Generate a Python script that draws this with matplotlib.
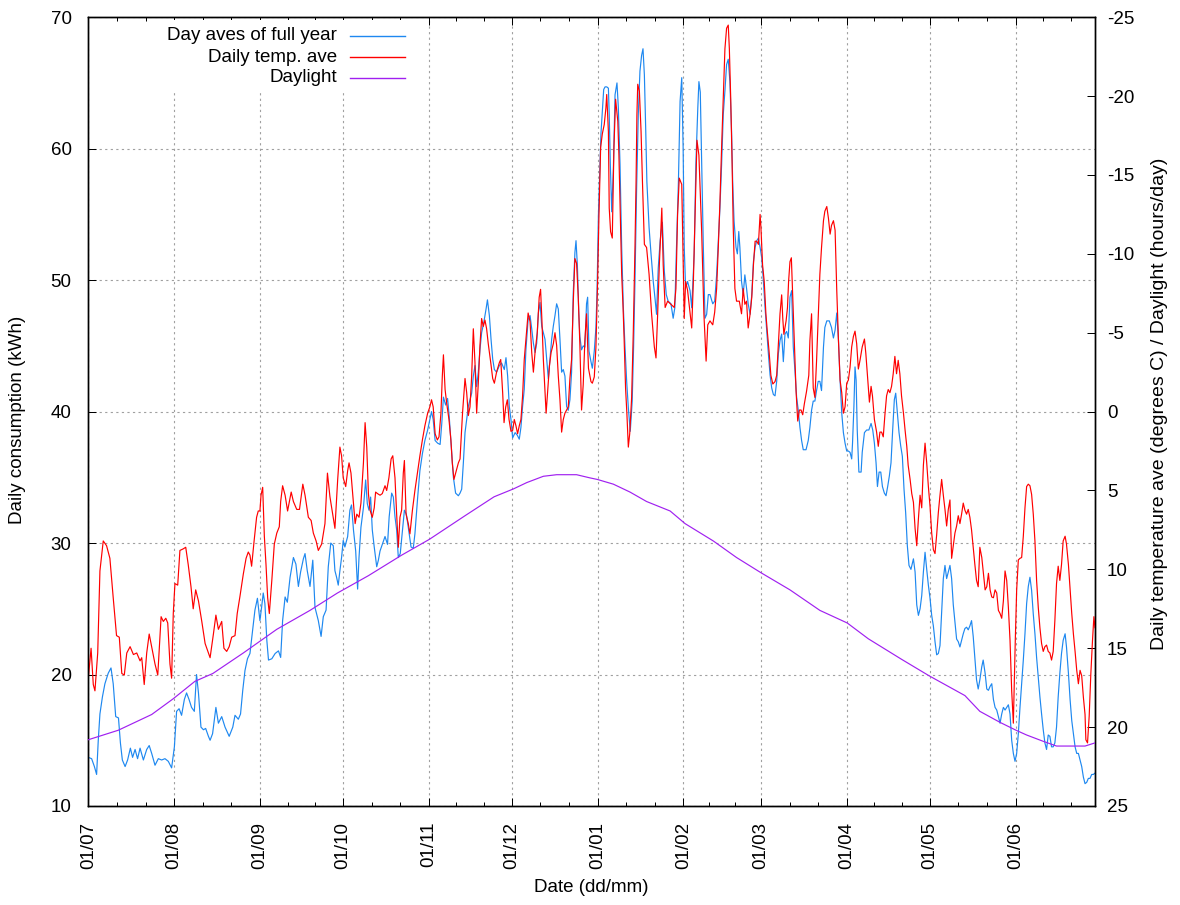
import matplotlib
matplotlib.use("Agg")
import matplotlib.pyplot as plt
from matplotlib.lines import Line2D
from matplotlib.patches import Rectangle
from matplotlib.ticker import FixedLocator

plt.rcParams['font.family'] = ['Liberation Sans', 'DejaVu Sans']
plt.rcParams['axes.unicode_minus'] = False

# ---------------- data ----------------
# x positions are day offsets from 01/07
month_days = [0, 31, 62, 92, 123, 153, 184, 215, 243, 274, 304, 335, 365]
month_labels = ['01/07', '01/08', '01/09', '01/10', '01/11', '01/12',
                '01/01', '01/02', '01/03', '01/04', '01/05', '01/06']

cons_day = [
    0, 1.2, 2.2, 3.0, 3.6, 4.2, 5.1, 6.0, 7.2, 8.2, 9.0, 9.9, 10.9, 11.6, 12.3, 13.3, 14.2, 15.2, 16.0, 16.9,
    17.8, 18.7, 19.9, 21.1, 22.0, 22.9, 24.1, 25.3, 26.5, 27.7, 28.9, 30.1, 31.1, 31.9, 32.8, 33.7, 34.7, 35.5,
    36.4, 37.3, 38.3, 39.1, 39.8, 40.7, 41.6, 42.4, 43.4,
    44.0, 44.9, 46.1, 47.0, 48.2, 49.4, 50.9, 52.2, 53.0, 54.2, 55.0, 55.8, 56.6, 57.5, 58.4, 59.4, 60.2, 61.1,
    62.0, 62.6, 63.2, 63.8, 64.5, 65.1, 66.3, 67.5, 68.7, 69.5, 70.2, 71.1, 71.9, 72.9, 74.1, 75.0, 75.9, 76.7,
    77.7, 78.3, 79.1, 80.1, 81.1, 81.9, 83.1, 84.1, 84.9, 85.9, 86.7, 87.6, 88.5,
    89.1, 89.7, 90.3, 90.9, 91.5, 92.1, 92.7, 93.7, 94.5, 95.1, 95.8, 96.6, 97.3, 97.8, 98.5, 99.4, 100.2, 100.8,
    101.4, 102.0, 102.6, 103.3, 104.2, 104.8, 105.4, 106.2, 107.2, 108.1, 108.7, 109.6, 110.2, 110.8, 111.4,
    112.0, 112.7, 113.5, 114.2, 114.9, 115.6, 116.6, 117.4, 118.0, 119.0, 119.8, 120.7, 121.6, 122.6, 123.4,
    124.0, 124.6, 125.3, 126.2, 127.1, 127.7, 128.3, 129.1, 129.8, 130.4, 131.0, 131.9, 132.7, 133.7,
    134.3, 134.9, 135.5, 136.1, 136.7, 137.3, 137.9, 138.5, 139.1, 139.7, 140.3, 140.9, 141.5, 142.1, 142.9,
    143.7, 144.2, 144.9, 145.5, 146.1, 146.7, 147.5, 148.5, 149.3, 150.3, 150.9, 151.5, 152.1, 152.7, 153.3,
    154.2, 155.0, 155.7, 156.3, 156.9, 157.5, 158.1, 158.9, 159.6, 160.2, 160.8, 161.4, 162.0, 162.6, 163.2,
    163.8, 164.4, 165.0, 165.6, 166.2, 166.8, 167.4, 168.0, 168.6, 169.2, 169.8, 170.4, 171.0, 171.6, 172.2,
    172.8, 173.4, 174.0, 174.6, 175.2, 175.8, 176.2, 176.7, 177.2, 177.6, 178.2, 178.8,
    179.4, 180.0, 180.4, 180.9, 181.6, 182.1, 182.8, 183.4, 183.8, 184.3, 184.8, 185.2, 185.7, 186.2, 186.7,
    187.3, 187.9, 188.2, 188.6, 189.1, 189.7, 190.3, 191.0, 191.5, 192.1, 192.7, 193.3, 193.9, 194.5, 195.1,
    195.8, 196.5, 197.0, 197.5, 198.1, 198.7, 199.3, 199.9, 200.4, 200.9, 201.4, 201.8, 202.6, 203.3, 204.1,
    204.7, 205.3, 205.9, 206.6, 207.4, 208.1, 208.8, 209.5, 210.5, 211.3, 211.9, 212.5, 213.2, 213.8, 214.4,
    214.9, 215.3, 215.8, 216.5, 217.4, 218.0, 218.9, 219.5, 220.2, 220.6, 221.1, 221.6, 222.2, 222.8, 223.4, 224.0,
    224.6, 225.6, 226.3, 227.0, 227.6, 228.2, 228.8, 229.4, 230.0, 230.6, 231.2, 231.8, 232.4, 232.8, 233.3,
    234.0, 234.5, 235.0, 235.4, 236.0, 236.6, 237.2, 237.8, 238.4, 239.1, 239.7, 240.3, 240.9, 241.5, 242.1,
    242.7, 243.3, 243.9, 244.5, 245.1, 245.7, 246.3, 246.9, 247.5, 248.1, 248.7, 249.3, 249.9, 250.5, 251.1,
    251.7, 252.3, 252.9, 253.5, 254.1, 254.7, 255.3, 255.9, 256.5, 257.1, 257.7, 258.3, 259.3, 260.1, 260.7,
    261.3, 261.9, 262.5, 263.1, 263.7, 264.3, 264.9, 265.6, 266.1, 266.8, 267.7, 268.5, 269.2,
    269.8, 270.4, 271.0, 271.6, 272.2, 272.8, 273.4, 274.0, 274.6, 275.2, 275.8, 276.1, 276.6, 277.0, 277.4,
    277.8, 278.4, 279.2, 279.6, 280.4, 281.2, 282.0, 282.8, 283.4, 284.0, 284.6, 285.1, 285.7, 286.3, 286.9,
    287.6, 288.2, 288.8, 289.4, 290.0, 290.6, 291.2, 291.7, 292.3, 292.9, 293.5, 294.1, 294.7, 295.3, 295.9,
    296.5, 297.2, 298.1, 298.7, 299.3, 299.9, 300.5, 301.1, 301.7, 302.3, 302.9, 303.5, 304.1, 304.7, 305.3,
    305.9, 306.5, 307.1, 307.7, 308.3, 308.9, 309.5, 310.1, 310.7, 311.3, 311.9, 312.5, 313.1, 313.7, 314.3,
    314.9, 315.5, 316.1, 316.7, 317.3, 317.9, 318.5, 319.1, 319.7, 320.3, 320.9, 321.5, 322.1, 322.8, 323.3,
    324.0, 324.6, 325.2, 325.8, 326.4, 327.0, 327.6, 328.2, 328.8, 329.4, 330.0, 330.6, 331.2, 331.8, 332.4,
    333.0, 333.6, 334.2, 334.8, 335.4, 336.0, 336.6, 337.2, 337.8, 338.4, 339.0, 339.6, 340.2, 340.8, 341.4,
    342.0, 342.6, 343.2, 343.8, 344.4, 345.0, 345.6, 346.2, 346.8, 347.4, 348.0, 348.6, 349.2, 349.8, 350.4,
    351.0, 351.6, 352.2, 352.9, 353.4, 354.1, 354.7, 355.3, 355.9, 356.5, 357.1, 357.7, 358.3, 358.9, 359.5,
    360.1, 360.7, 361.3, 361.9, 362.5, 363.1, 363.7]
cons_kwh = [
    13.7, 13.6, 13.0, 12.4, 15.0, 17.0, 18.3, 19.3, 20.1, 20.5, 19.3, 16.8, 16.7, 14.8, 13.5, 13.0, 13.5, 14.4, 13.7, 14.3,
    13.6, 14.4, 13.5, 14.3, 14.6, 14.0, 13.1, 13.6, 13.5, 13.6, 13.4, 12.9, 14.5, 17.2, 17.4, 16.9, 18.1, 18.6,
    18.1, 17.5, 17.2, 20.0, 18.6, 16.0, 15.8, 15.9, 15.3,
    15.0, 15.5, 17.5, 16.3, 16.8, 16.0, 15.3, 16.0, 16.9, 16.6, 17.0, 18.8, 20.3, 21.2, 21.6, 23.4, 24.9, 25.8,
    24.1, 25.1, 26.2, 25.4, 22.6, 21.1, 21.2, 21.6, 21.8, 21.3, 24.1, 25.9, 25.5, 27.4, 28.9, 28.4, 26.7, 27.8,
    28.8, 29.2, 27.9, 26.7, 28.7, 25.1, 24.1, 22.9, 24.4, 24.9, 28.2, 30.0, 29.8,
    27.9, 27.4, 26.8, 27.9, 28.9, 30.2, 29.7, 30.5, 32.5, 32.9, 31.0, 29.4, 26.5, 28.9, 31.2, 32.7, 34.8, 33.0,
    32.5, 33.5, 31.0, 29.7, 28.2, 28.7, 29.4, 29.9, 30.5, 29.9, 32.0, 33.8, 33.5, 32.0, 31.0,
    28.9, 29.2, 31.0, 32.5, 32.2, 31.2, 29.7, 29.6, 30.7, 33.5, 35.5, 36.8, 37.8, 38.6, 39.4,
    40.0, 39.4, 37.8, 37.6, 37.5, 39.1, 41.1, 40.5, 41.0, 39.6, 37.8, 35.0, 33.8, 33.6,
    33.8, 34.1, 36.1, 38.4, 39.4, 40.4, 40.9, 41.4, 42.7, 43.5, 41.9, 43.0, 44.7, 46.0, 46.8,
    47.8, 48.5, 47.3, 45.5, 44.0, 43.2, 43.0, 43.5, 43.7, 43.2, 44.1, 42.7, 40.4, 39.4, 38.0,
    38.4, 38.2, 37.9, 38.8, 40.4, 41.7, 44.7, 47.0, 47.3, 46.3, 45.2, 44.5, 45.2, 47.5, 48.3,
    46.5, 46.0, 45.5, 44.0, 42.5, 44.0, 45.5, 46.5, 47.3, 48.2, 47.8, 45.5, 43.0, 43.2, 42.7,
    40.4, 40.1, 40.9, 43.0, 49.0, 52.1, 53.0, 51.1, 47.5, 45.7, 44.7, 45.0,
    44.9, 48.2, 48.7, 44.6, 43.8, 43.3, 44.6, 46.4, 49.2, 55.0, 58.3, 61.1, 62.8, 64.5, 64.7,
    64.7, 64.6, 62.6, 58.8, 55.2, 58.5, 64.1, 65.0, 63.1, 58.8, 52.5, 47.9, 44.9, 42.3, 40.3,
    38.5, 40.8, 44.9, 49.9, 57.0, 62.6, 65.9, 67.1, 67.6, 65.6, 61.3, 57.5, 54.0, 52.0, 49.9,
    48.7, 47.4, 50.9, 53.0, 54.4, 50.7, 48.9, 48.4, 48.2, 47.1, 47.9, 52.5, 57.5, 63.6, 65.4,
    60.1, 52.5, 49.4, 49.9, 49.2, 47.9, 52.0, 58.8, 63.1, 65.1, 64.3, 58.8, 52.5, 47.1, 47.4, 48.9,
    48.9, 48.2, 48.4, 50.4, 53.0, 55.5, 58.8, 62.6, 64.4, 66.4, 66.8, 65.1, 61.3, 57.5, 54.5,
    52.5, 52.0, 53.7, 52.5, 49.9, 48.9, 50.4, 49.4, 48.2, 47.4, 48.9, 51.4, 52.5, 53.0, 53.2,
    52.5, 51.7, 49.9, 47.9, 46.1, 44.4, 42.8, 41.8, 41.3, 41.2, 42.3, 44.4, 45.4, 45.9, 43.8,
    45.9, 46.1, 45.6, 48.7, 49.2, 44.9, 43.1, 41.1, 40.1, 38.8, 37.8, 37.1, 37.1, 37.8, 38.8,
    40.1, 40.8, 40.8, 41.6, 42.3, 42.3, 41.6, 44.9, 46.4, 46.9, 46.9, 46.4, 45.6,
    46.2, 47.5, 45.5, 42.4, 39.9, 38.4, 37.6, 37.0, 37.0, 36.9, 36.4, 37.6, 40.4, 43.4, 42.4,
    38.6, 35.4, 35.4, 36.9, 38.4, 38.6, 38.6, 39.1, 38.6, 37.6, 36.1, 34.3, 35.4, 35.4, 34.3,
    33.8, 33.6, 34.3, 35.1, 36.1, 38.6, 40.9, 41.4, 39.9, 38.4, 37.4, 36.6, 34.1, 32.3, 29.8,
    28.3, 28.0, 28.8, 27.8, 25.3, 24.5, 25.0, 26.0, 27.8, 29.3, 28.0, 26.8, 25.8, 24.5, 23.7,
    22.5, 21.5, 21.6, 22.2, 24.7, 27.3, 28.3, 27.3, 27.8, 28.3, 27.3, 25.3, 24.0, 22.7, 22.5,
    22.1, 22.6, 23.1, 23.5, 23.6, 23.4, 23.7, 24.1, 22.9, 21.3, 19.6, 18.9, 19.6, 20.6, 21.1,
    20.1, 18.9, 18.8, 19.1, 19.3, 18.1, 17.5, 17.3, 16.8, 16.3, 17.0, 17.5, 17.3, 17.5, 17.7,
    17.0, 15.0, 14.0, 13.4, 14.0, 15.5, 17.5, 19.3, 21.1, 23.1, 25.4, 26.7, 27.4, 26.4, 24.6,
    23.1, 21.3, 19.8, 18.3, 17.0, 15.8, 14.8, 14.3, 15.4, 15.3, 14.5, 14.5, 14.8, 16.0, 18.3,
    20.1, 21.6, 22.6, 23.1, 22.1, 20.1, 18.1, 16.5, 15.5, 14.5, 14.0, 14.0, 13.5, 13.0, 12.2,
    11.7, 11.8, 12.1, 12.1, 12.4, 12.4, 12.5]

temp_day = [
    0, 1.0, 1.8, 2.4, 3.4, 4.2, 5.4, 6.6, 7.8, 9.0, 10.2, 11.2, 12.1, 13.0, 13.9, 15.1, 16.3, 17.5, 18.7, 19.3,
    20.2, 21.1, 22.0, 22.9, 24.1, 25.1, 26.3, 27.1, 28.0, 28.7, 29.5, 30.1, 30.7, 31.3, 32.3, 33.1, 34.3, 35.2,
    36.1, 37.1, 37.9, 38.8, 39.8, 41.0, 42.2, 43.4,
    44.0, 45.2, 46.1, 47.0, 48.2, 49.0, 50.0, 50.9, 51.8, 53.0, 53.8, 54.8, 56.0, 57.0, 57.8, 58.4, 59.0, 59.9,
    60.8, 61.4, 62.0, 62.4, 63.0, 63.6, 64.2, 64.8, 65.4, 66.3, 67.2, 68.1, 69.0, 69.5, 70.2, 71.1, 72.0, 73.3,
    74.1, 75.3, 76.3, 77.5, 78.3, 79.5, 80.5, 81.3, 82.3, 83.1, 84.3, 85.5, 86.4, 87.3, 88.3,
    89.1, 90.1, 90.9, 91.5, 92.1, 93.0, 93.7, 94.2, 94.9, 95.8, 96.4, 97.0, 97.8, 98.5, 99.4, 100.0, 100.6,
    101.2, 101.8, 102.6, 103.3, 103.8, 104.5, 105.4, 106.2, 107.2, 107.8, 108.6, 109.4, 110.0, 110.8, 111.4,
    112.0, 112.6, 113.2, 113.8, 114.2, 114.8, 115.6, 116.2, 117.1, 118.0, 119.0, 119.8, 120.7, 121.6, 122.6,
    123.4, 124.0, 124.6, 125.3, 126.1, 126.7, 127.4, 127.9, 128.3, 128.9, 129.5, 130.3, 131.0, 131.5, 132.1,
    132.7, 133.7,
    134.3, 135.2, 136.1, 136.7, 137.3, 137.9, 138.5, 139.1, 139.7, 140.3, 140.9, 141.5, 142.1, 142.7, 143.3,
    143.9, 144.5, 145.4, 146.1, 146.7, 147.5, 148.5, 149.0, 149.7, 150.2, 150.8, 151.4, 152.0, 152.7, 153.3,
    153.9, 154.5, 155.1, 155.7, 156.3, 156.9, 157.5, 158.1, 158.9, 159.6, 160.2, 160.8, 161.4, 162.2, 162.9,
    163.4, 163.9, 164.4, 165.0, 165.4, 166.0, 166.6, 167.2, 168.0, 168.6, 169.2, 169.8, 170.4, 171.0, 171.6,
    172.2, 172.8, 173.4, 174.0, 174.6, 175.2, 175.8, 176.4, 177.0, 177.6, 178.2, 178.8,
    179.4, 180.0, 180.7, 181.6, 182.1, 182.8, 183.4, 184.0, 184.5, 185.1, 185.7, 186.4, 187.0, 187.3, 187.9,
    188.2, 188.7, 189.3, 189.9, 190.5, 191.3, 191.7, 192.2, 192.7, 193.2, 193.6, 194.1, 194.6, 195.1, 195.6,
    196.3, 196.9, 197.5, 197.9, 198.2, 198.5, 199.1, 199.7, 200.2, 200.9, 201.7, 202.6, 203.5, 204.5, 205.1,
    205.7, 206.3, 207.2, 207.7, 208.4, 209.3, 210.5, 211.7, 212.3, 212.9, 213.5, 214.4, 214.9, 215.3, 215.8,
    216.5, 218.0, 218.6, 219.2, 219.9, 220.6, 221.6, 222.4, 223.2, 223.8,
    224.6, 225.6, 226.3, 227.0, 227.6, 228.2, 228.8, 229.4, 230.0, 230.6, 231.2, 231.6, 232.1, 232.6, 233.0,
    233.6, 234.2, 235.2, 236.0, 236.6, 237.2, 237.8, 238.4, 239.1, 239.7, 240.3, 240.9, 241.5, 242.1, 242.7,
    243.0, 243.6, 244.2, 244.8, 245.3, 246.0, 246.6, 247.3, 248.1, 248.7, 249.3, 249.9, 250.5, 250.9, 251.3,
    252.1, 252.6, 253.0, 253.5, 254.0, 254.5, 255.1, 255.7, 256.3, 256.9, 257.5, 258.1, 258.7, 259.5, 260.3,
    260.7, 261.3, 261.9, 262.5, 263.1, 263.7, 264.3, 264.9, 265.6, 266.1, 266.8, 267.4, 268.0, 268.5, 269.2,
    269.8, 270.4, 271.0, 271.6, 272.2, 272.8, 273.4, 274.0, 274.6, 275.2, 275.8, 276.4, 277.0, 277.6, 278.2,
    278.8, 279.6, 280.4, 280.9, 281.6, 282.2, 282.8, 283.3, 284.0, 284.8, 285.4, 286.0, 286.6, 287.2, 287.8,
    288.4, 289.0, 289.6, 290.2, 290.8, 291.4, 292.0, 292.6, 293.2, 293.8, 294.5, 295.1, 295.7, 296.2, 296.9,
    297.5, 298.1, 298.7, 299.3, 299.9, 300.5, 301.1, 301.7, 302.3, 302.9, 303.5, 304.1, 304.7, 305.3, 305.9,
    306.5, 307.1, 307.7, 308.3, 308.9, 309.5, 310.1, 310.7, 311.3, 311.9, 312.5, 313.1, 313.7, 314.3,
    314.9, 315.5, 316.1, 316.7, 317.3, 317.9, 318.5, 319.1, 319.7, 320.3, 320.9, 321.5, 322.1, 322.8, 323.3,
    324.0, 324.6, 325.2, 325.8, 326.4, 327.0, 327.6, 328.2, 328.8, 329.4, 330.0, 330.6, 331.2, 331.8, 332.4,
    333.0, 333.6, 334.2, 334.5, 334.9, 335.4, 336.0, 336.6, 337.2, 337.8, 338.4, 339.0, 339.6, 340.2, 340.8,
    341.4, 342.0, 342.6, 343.2, 343.8, 344.4, 345.0, 345.6, 346.2, 346.8, 347.4, 348.0, 348.6, 349.2, 349.8,
    350.4, 351.0, 351.6, 352.2, 352.9, 353.4, 354.1, 354.7, 355.3, 355.9, 356.5, 357.1, 357.7, 358.3, 358.9,
    359.5, 360.1, 360.4, 361.0, 361.6, 362.2, 362.8, 363.3, 363.7]
temp_c = [
    16.9, 15.0, 17.3, 17.7, 15.3, 10.1, 8.2, 8.5, 9.3, 11.8, 14.2, 14.3, 16.6, 16.7, 15.3, 14.9, 15.4, 15.3, 15.8, 15.6,
    17.3, 15.3, 14.1, 14.9, 16.0, 16.7, 13.0, 13.3, 13.1, 13.4, 16.0, 16.9, 12.8, 10.9, 11.0, 8.8, 8.7, 8.6,
    9.7, 11.1, 12.5, 11.3, 12.0, 13.3, 14.7, 15.3,
    15.6, 14.1, 12.9, 13.8, 13.3, 15.0, 15.2, 14.9, 14.3, 14.2, 12.8, 11.7, 10.3, 9.3, 8.9, 9.1, 9.8, 8.2,
    6.7, 6.3, 6.3, 5.3, 4.8, 7.9, 9.7, 11.8, 12.8, 10.7, 8.4, 7.7, 7.3, 5.7, 4.7, 5.3, 6.3, 5.1,
    5.7, 6.2, 6.2, 4.6, 5.3, 6.7, 6.9, 7.7, 8.2, 8.8, 8.4, 7.1, 3.9, 5.4, 6.5,
    7.4, 4.3, 2.25, 2.8, 4.2, 4.75, 3.75, 3.25, 3.9, 5.8, 7.1, 6.5, 6.7, 5.8, 3.25, 0.7, 2.25,
    5.2, 6.25, 6.7, 6.1, 5.1, 5.2, 5.3, 5.2, 4.7, 5.0, 4.2, 3.0, 2.8, 4.2, 6.5,
    8.6, 6.7, 6.25, 3.9, 3.1, 6.5, 7.1, 7.75, 6.25, 5.0, 3.75, 2.8, 1.8, 0.9, 0.1,
    -0.3, -0.75, -0.3, 1.4, 1.8, 1.6, 0.1, -2.25, -3.6, -1.4, -0.5, 0.5, 1.8, 3.25, 4.3,
    3.9, 3.25,
    3.0, 0.1, -2.1, -1.2, 0.25, -0.3, -2.25, -5.25, -3.1, 0.1, -1.8, -4.2, -5.9, -5.4, -5.8,
    -5.25, -4.3, -3.1, -2.1, -1.8, -2.5, -3.1, -3.3, -1.2, 0.7, -0.3, -0.75, 0.5, 1.25, 1.2,
    0.5, 0.9, 1.4, 0.9, 0.5, -1.0, -3.3, -4.6, -6.25, -5.7, -3.75, -2.5, -3.75, -5.0, -7.25,
    -7.75, -5.7, -3.3, -1.2, 0.1, -1.4, -2.9, -3.75, -4.3, -5.0, -4.2, -2.25, -0.75, 1.3, 0.5,
    0.1, -0.1, -0.3, -2.1, -3.3, -6.9, -9.7, -9.4, -7.3, -4.2, -0.1, -1.7,
    -4.5, -6.2, -2.75, -1.9, -1.8, -2.2, -4.1, -8.25, -12.5, -16.75, -17.6, -18.2, -19.25, -20.1, -17.75,
    -12.9, -11.4, -11.0, -16.75, -19.8, -18.4, -16.25, -12.5, -8.7, -6.6, -4.5, -1.5, 0.2, 2.25, 1.4,
    -0.9, -5.1, -10.4, -14.6, -18.8, -20.75, -20.3, -17.75, -14.6, -10.6, -10.4, -8.7, -6.2, -4.1, -3.4,
    -6.2, -9.3, -12.9, -9.3, -6.6, -7.0, -6.8, -6.6, -7.8, -12.5, -14.8, -14.4, -9.75, -5.9, -8.25,
    -7.7, -5.3, -8.25, -12.5, -17.2, -16.25, -11.4, -6.2, -3.2, -5.5,
    -5.75, -5.5, -6.3, -7.8, -10.4, -13.3, -16.75, -19.8, -23.0, -24.3, -24.5, -23.0, -19.8, -15.7, -11.7,
    -7.8, -7.0, -7.0, -6.2, -7.8, -6.8, -7.0, -5.3, -6.2, -7.25, -9.3, -10.8, -10.8, -10.6, -12.5,
    -11.7, -9.3, -8.25, -6.2, -5.1, -3.7, -2.3, -1.75, -1.9, -2.3, -4.25, -6.2, -7.4, -5.9, -4.9,
    -5.75, -6.6, -8.25, -9.5, -9.75, -7.25, -4.1, -1.3, 0.6, -0.1, -0.1, 0.2, -0.5, -1.3, -2.3,
    -4.5, -6.2, -1.5, -0.9, -3.2, -5.9, -8.7, -10.4, -12.1, -12.7, -13.0, -12.25, -11.25, -11.8, -12.1,
    -11.5, -7.7, -4.6, -2.0, -1.2, 0.1, -0.3, -1.8, -2.0, -2.8, -4.1, -4.75, -5.1, -4.3, -2.7,
    -3.25, -4.1, -4.6, -3.7, -2.0, -0.6, -1.6, -1.0, 0.5, 1.3, 2.2, 1.3, 1.3, 1.6, 0.2,
    -1.0, -1.4, -1.2, -1.6, -2.4, -3.5, -2.4, -3.25, -2.4, -1.0, 0.1, 1.2, 2.2, 3.4, 4.3,
    5.2, 5.75, 7.4, 8.5, 6.8, 5.3, 6.1, 3.4, 2.0, 3.25, 4.75, 6.0, 7.7, 8.75, 9.0,
    7.8, 6.4, 5.3, 4.3, 5.3, 6.2, 7.25, 6.2, 5.6, 9.3, 8.5, 7.7, 7.25, 6.6,
    7.1, 6.5, 5.8, 6.25, 6.5, 6.2, 6.7, 7.5, 8.6, 9.7, 10.7, 11.1, 8.6, 9.25, 10.1,
    11.3, 11.1, 10.25, 11.3, 11.75, 11.8, 11.3, 11.5, 12.6, 12.8, 13.1, 12.0, 10.1, 10.7, 12.4,
    14.5, 17.7, 19.75, 17.4, 14.5, 11.3, 9.4, 9.3, 9.25, 7.9, 6.1, 4.75, 4.6, 4.7, 5.25,
    6.5, 8.2, 10.7, 12.4, 13.7, 14.7, 15.2, 14.9, 14.8, 15.2, 15.3, 15.75, 15.2, 13.25, 10.9,
    9.8, 10.7, 9.7, 8.2, 7.9, 8.4, 9.7, 11.3, 12.8, 14.1, 15.2, 16.4, 17.25, 16.4, 16.75,
    18.1, 19.2, 20.8, 21.0, 19.3, 16.6, 14.5, 13.0, 13.7]

daylight_day = [0, 10.8, 22.9, 30.7, 38.5, 45.0, 56.0, 68.1, 80.1, 90.0, 101.2, 113.2, 123.2, 136.1,
                146.6, 153.6, 158.4, 164.4, 169.2, 176.4, 181.2, 183.9, 189.7, 195.7, 201.7, 210.2,
                215.6, 225.8, 234.2, 242.9, 253.5, 264.3, 274.2, 281.8, 293.8, 303.8, 316.7, 322.1,
                329.4, 335.2, 339.0, 345.0, 349.8, 360.1, 363.7]
daylight_h = [20.8, 20.2, 19.2, 18.2, 17.1, 16.6, 15.3, 13.8, 12.6, 11.5, 10.4, 9.1, 8.1, 6.6,
              5.4, 4.9, 4.5, 4.1, 4.0, 4.0, 4.2, 4.3, 4.6, 5.1, 5.7, 6.3,
              7.1, 8.2, 9.25, 10.2, 11.3, 12.6, 13.4, 14.4, 15.7, 16.75, 18.0, 19.0,
              19.7, 20.2, 20.5, 20.9, 21.2, 21.2, 21.0]

series_names = ['Day aves of full year', 'Daily temp. ave', 'Daylight']
series_colors = ['#1e88f0', '#ff0000', '#a020f0']

# ---------------- figure ----------------
W, H = 1180, 905
fig = plt.figure(figsize=(W / 100, H / 100), dpi=100)
L, R, T, B = 88.3, 1095.0, 17.2, 806.0
ax = fig.add_axes([L / W, 1 - B / H, (R - L) / W, (B - T) / H])
ax.set_xlim(0, 363.7)
ax.set_ylim(10, 70)
ax.set_axisbelow(True)

fs = 13.5
px = 0.72  # one pixel in points
lw = 0.85

ax.plot(cons_day, cons_kwh, color=series_colors[0], lw=lw, zorder=2)

ax2 = ax.twinx()
ax2.set_ylim(25, -25)
ax2.plot(temp_day, temp_c, color=series_colors[1], lw=lw, zorder=2)
ax2.plot(daylight_day, daylight_h, color=series_colors[2], lw=lw, zorder=3)

# x ticks
ax.set_xticks(month_days[:-1])
ax.set_xticklabels(month_labels, rotation=90, fontsize=fs)
minor = []
for a, b in zip(month_days[:-1], month_days[1:]):
    minor += [a + (b - a) / 3.0, a + 2 * (b - a) / 3.0]
ax.xaxis.set_minor_locator(FixedLocator(minor))
ax.tick_params(axis='x', which='major', direction='in', length=8 * px, width=px,
               top=True, bottom=True, pad=11.5)
ax.tick_params(axis='x', which='minor', direction='in', length=4 * px, width=px,
               top=True, bottom=True)

# left y
ax.set_yticks(range(10, 71, 10))
ax.tick_params(axis='y', which='major', direction='in', length=8 * px, width=px,
               left=True, right=False, labelsize=fs, pad=12)

# right y
ax2.set_yticks(range(-25, 26, 5))
ax2.tick_params(axis='y', which='major', direction='in', length=8 * px, width=px,
                left=False, right=True, labelsize=fs, pad=8.5)

for a in (ax, ax2):
    for s in a.spines.values():
        s.set_linewidth(1.0)
        s.set_color('black')

ax.grid(True, which='major', color='#a0a0a0', linestyle=(0, (2, 3)), linewidth=0.8)

# legend area (opaque, hides grid)
ax.add_patch(Rectangle((150 / W, 1 - 90 / H), 272 / W, 70 / H, transform=fig.transFigure,
                       facecolor='white', edgecolor='none', zorder=1))
rows_y = [35.7, 57.3, 77.7]
for name, col, yy in zip(series_names, series_colors, rows_y):
    fig.text(337 / W, 1 - yy / H, name, ha='right', va='center', fontsize=fs)
    fig.add_artist(Line2D([350 / W, 405 / W], [1 - yy / H, 1 - yy / H],
                          transform=fig.transFigure, color=col, lw=1.0))

# axis labels
fig.text(18 / W, 1 - 420 / H, 'Daily consumption (kWh)', rotation=90,
         ha='center', va='center', fontsize=fs)
fig.text(1160 / W, 1 - 404 / H, 'Daily temperature ave (degrees C) / Daylight (hours/day)',
         rotation=90, ha='center', va='center', fontsize=14)
fig.text(591.5 / W, 1 - 887 / H, 'Date (dd/mm)', ha='center', va='center', fontsize=fs)

fig.savefig('out.png', dpi=100, facecolor='white')
